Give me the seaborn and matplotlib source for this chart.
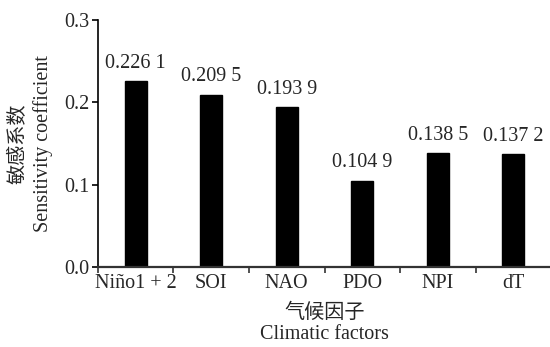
import matplotlib
matplotlib.use("Agg")
import matplotlib.pyplot as plt
import seaborn as sns
import pandas as pd
import numpy as np
from matplotlib.ticker import FixedLocator

factors = ["Niño1 + 2", "SOI", "NAO", "PDO", "NPI", "dT"]
values = [0.2261, 0.2095, 0.1939, 0.1049, 0.1385, 0.1372]
value_labels = ["0.226 1", "0.209 5", "0.193 9", "0.104 9", "0.138 5", "0.137 2"]
yticks = [0.0, 0.1, 0.2, 0.3]
ytick_labels = ["0.0", "0.1", "0.2", "0.3"]

sns.set_style("ticks")
plt.rcParams['font.family'] = ['Liberation Serif', 'Noto Sans CJK SC']
FS = 14.5
plt.rcParams['font.size'] = FS

df = pd.DataFrame({"factor": factors, "value": values})

fig = plt.figure(figsize=(5.5, 3.47), dpi=100)
ax = fig.add_axes([0.178, 0.2305, 0.824, 0.7115])
sns.barplot(data=df, x="factor", y="value", order=factors, color="black",
            width=0.29, saturation=1, ax=ax, edgecolor="black")

ax.bar_label(ax.containers[0], labels=value_labels, padding=6, fontsize=FS)

ax.set_ylim(0, 0.3)
ax.set_xlim(-0.5, len(factors) - 0.5)
ax.set_yticks(yticks)
ax.set_yticklabels(ytick_labels, fontsize=FS)
ax.tick_params(axis='y', direction='out', length=4, width=1.2, color='black', pad=2)
ax.tick_params(axis='x', which='major', length=0, pad=5, labelsize=FS)
ax.xaxis.set_minor_locator(FixedLocator(np.arange(-0.5, len(factors), 1.0)))
ax.tick_params(axis='x', which='minor', direction='out', length=4, width=1.2, color='#333333')

sns.despine(ax=ax)
ax.spines['left'].set_linewidth(1.2)
ax.spines['left'].set_color('black')
ax.spines['bottom'].set_linewidth(1.6)
ax.spines['bottom'].set_color('#333333')

ax.set_xlabel("气候因子\nClimatic factors", fontsize=FS, linespacing=1.15, labelpad=8)
ax.set_ylabel("敏感系数\nSensitivity coefficient", fontsize=FS, linespacing=1.3, labelpad=8)

fig.savefig("out.png", dpi=100)
